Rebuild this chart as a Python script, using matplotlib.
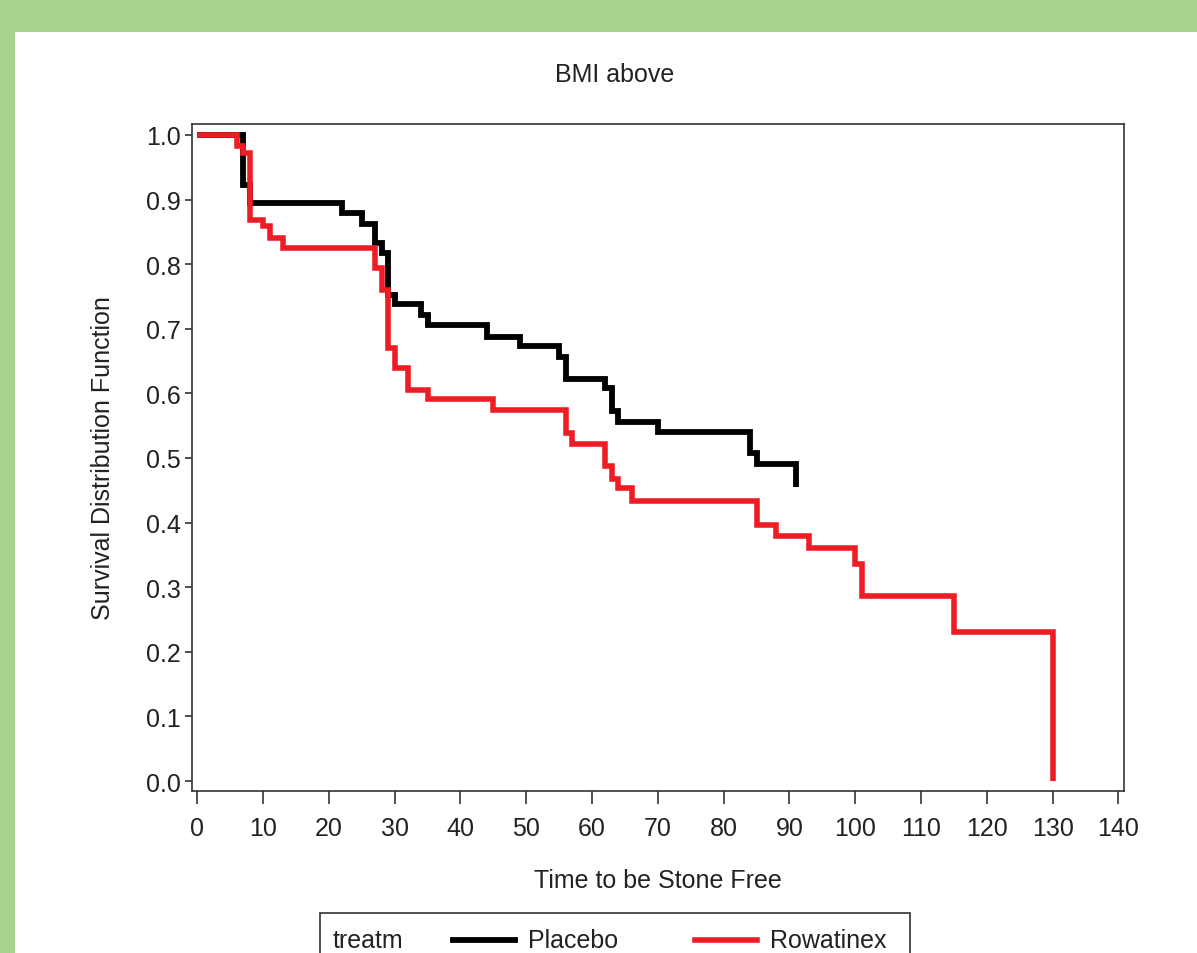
import matplotlib
matplotlib.use("Agg")
import matplotlib.pyplot as plt
from matplotlib.patches import Rectangle
from matplotlib.lines import Line2D

# Kaplan-Meier step data
placebo_time = [0, 7, 8, 22, 25, 27, 28, 29, 30, 34, 35, 44, 49, 55, 56, 62, 63, 64, 70, 84, 85, 91]
placebo_surv = [1.0, 0.922, 0.894, 0.879, 0.862, 0.833, 0.817, 0.752, 0.738, 0.721, 0.706,
                0.688, 0.673, 0.656, 0.623, 0.608, 0.573, 0.556, 0.541, 0.507, 0.491, 0.455]

rowat_time = [0, 6, 7, 8, 10, 11, 13, 27, 28, 29, 30, 32, 35, 45, 56, 57, 62, 63, 64, 66,
              85, 88, 93, 100, 101, 115, 130]
rowat_surv = [1.0, 0.983, 0.972, 0.869, 0.859, 0.840, 0.825, 0.794, 0.760, 0.670, 0.639,
              0.605, 0.592, 0.574, 0.538, 0.522, 0.487, 0.468, 0.453, 0.434, 0.397, 0.380,
              0.360, 0.336, 0.287, 0.231, 0.0]

x_ticks = list(range(0, 141, 10))
y_ticks = [i / 10 for i in range(11)]

plt.rcParams['font.family'] = ['Liberation Sans', 'DejaVu Sans']
txt = '#222222'
fs = 18

W, H = 1197, 954
fig = plt.figure(figsize=(W / 100, H / 100), dpi=100, facecolor='#A9D18E')
# white panel inside the green border
fig.add_artist(Rectangle((15 / W, 0), 1, 1 - 33 / H, transform=fig.transFigure,
                         facecolor='white', edgecolor='none', zorder=0))

ax = fig.add_axes([191.7 / W, 1 - 791.7 / H, 932.6 / W, 666.7 / H])
ax.step(placebo_time, placebo_surv, where='post', color='black', lw=4.2,
        solid_joinstyle='miter', solid_capstyle='butt', zorder=3)
ax.step(rowat_time, rowat_surv, where='post', color='#EE1C25', lw=4.0,
        solid_joinstyle='miter', solid_capstyle='butt', zorder=4)

ax.set_xlim(-0.85, 140.9)
ax.set_ylim(-0.015, 1.017)
ax.set_xticks(x_ticks)
ax.set_yticks(y_ticks)
ax.set_yticklabels([f"{v:.1f}" for v in y_ticks])
ax.tick_params(axis='x', length=9.5, width=1.2, color='#333333', pad=9,
               labelsize=fs, labelcolor=txt)
ax.tick_params(axis='y', length=5, width=1.2, color='#333333', pad=3,
               labelsize=fs, labelcolor=txt)
for s in ax.spines.values():
    s.set_color('#333333')
    s.set_linewidth(1.2)

ax.set_xlabel('Time to be Stone Free', fontsize=fs, color=txt, labelpad=20)
ax.set_ylabel('Survival Distribution Function', fontsize=fs, color=txt, labelpad=22)
fig.text(615 / W, 1 - 75 / H, 'BMI above', fontsize=fs, color=txt, ha='center', va='center')

# legend box at the bottom (cut off by the picture edge)
fig.add_artist(Rectangle((320 / W, -0.05), 590 / W, 0.05 + (954 - 914) / H,
                         transform=fig.transFigure, facecolor='white',
                         edgecolor='#333333', lw=1.2))
ly = 1 - 941 / H
fig.text(333 / W, ly, 'treatm', fontsize=fs, color=txt, va='center')
fig.add_artist(Line2D([453 / W, 515 / W], [ly, ly], color='black', lw=4.2,
                      transform=fig.transFigure))
fig.text(528 / W, ly, 'Placebo', fontsize=fs, color=txt, va='center')
fig.add_artist(Line2D([695 / W, 757 / W], [ly, ly], color='#EE1C25', lw=4.0,
                      transform=fig.transFigure))
fig.text(770 / W, ly, 'Rowatinex', fontsize=fs, color=txt, va='center')

fig.savefig('out.png', dpi=100, facecolor=fig.get_facecolor())
